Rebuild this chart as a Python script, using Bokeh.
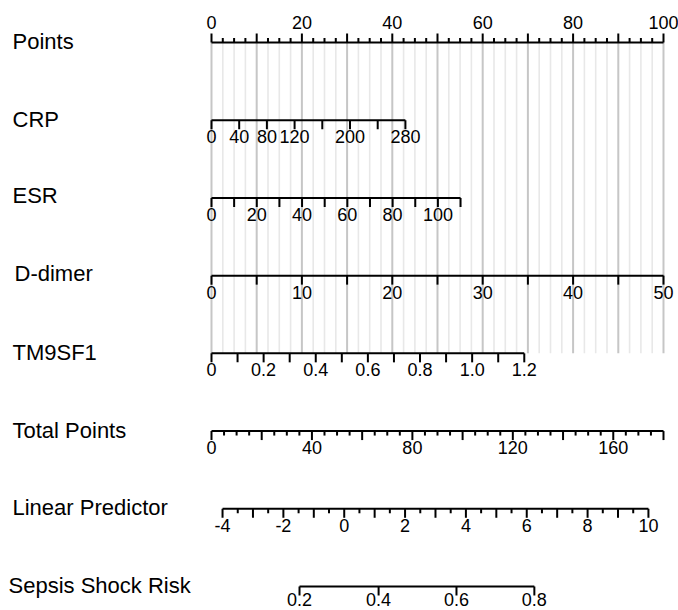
from bokeh.plotting import figure
from bokeh.models import Range1d
from bokeh.embed import file_html
from bokeh.resources import INLINE
from bokeh.core.properties import value
import numpy as np

# ---------------- data ----------------
row_names = ["Points", "CRP", "ESR", "D-dimer", "TM9SF1",
             "Total Points", "Linear Predictor", "Sepsis Shock Risk"]

points_labels = [0, 20, 40, 60, 80, 100]
points_major = [0, 10, 20, 30, 40, 50, 60, 70, 80, 90, 100]

crp_ticks = [0, 40, 80, 120, 160, 200, 240, 280]
crp_labels = ["0", "40", "80", "120", "", "200", "", "280"]
crp_max, crp_max_points = 280, 42.9

esr_ticks = [0, 10, 20, 30, 40, 50, 60, 70, 80, 90, 100, 110]
esr_labels = ["0", "", "20", "", "40", "", "60", "", "80", "", "100", ""]
esr_max, esr_max_points = 110, 55.1

dd_ticks = [0, 5, 10, 15, 20, 25, 30, 35, 40, 45, 50]
dd_labels = ["0", "", "10", "", "20", "", "30", "", "40", "", "50"]
dd_max, dd_max_points = 50, 100.0

tm_ticks = [0, 0.1, 0.2, 0.3, 0.4, 0.5, 0.6, 0.7, 0.8, 0.9, 1.0, 1.1, 1.2]
tm_labels = ["0", "", "0.2", "", "0.4", "", "0.6", "", "0.8", "", "1.0", "", "1.2"]
tm_max, tm_max_points = 1.2, 69.2

total_labels = [0, 40, 80, 120, 160]
total_max = 180

lp_labels = [-4, -2, 0, 2, 4, 6, 8, 10]
lp_at_total = {-4: 4.4, 10: 174.0}   # total points at the ends of the LP axis

risk_labels = ["0.2", "0.4", "0.6", "0.8"]
risk_lp = [-1.47, 1.13, 3.69, 6.25]  # linear predictor where each risk falls

# ---------------- layout helpers ----------------
PX = 1 / 77.71  # one pixel in row units
W, H = 678, 610
X0 = -46.68

p = figure(width=W, height=H, output_backend="svg", toolbar_location=None,
           x_range=Range1d(X0, 103.32), y_range=Range1d(7.309, -0.5405),
           x_axis_location=None, y_axis_location=None, min_border=0,
           outline_line_color=None, background_fill_color="white")
p.xgrid.visible = False
p.ygrid.visible = False

FONT = value("Liberation Sans")

def tp_to_points(tp):
    return np.asarray(tp, dtype=float) * 100.0 / total_max

def lp_to_points(lp):
    lp = np.asarray(lp, dtype=float)
    t0, t1 = lp_at_total[-4], lp_at_total[10]
    tp = t0 + (lp + 4) / 14.0 * (t1 - t0)
    return tp_to_points(tp)

# gray vertical reference lines from Points axis down to TM9SF1 axis
minor_grid = [v for v in np.arange(0, 100.01, 2.5) if abs(v % 10) > 1e-9]
p.segment(x0=minor_grid, x1=minor_grid, y0=0, y1=4, line_color="#e8e8e8", line_width=1.6)
p.segment(x0=points_major, x1=points_major, y0=0, y1=4, line_color="#c6c6c6", line_width=2)

seg_x, seg_y0, seg_y1 = [], [], []
lab_x, lab_y, lab_t = [], [], []

def add_axis(row, xs, labels, tick_len, minor_xs=(), minor_len=4.5, up=False, lab_off=16.5):
    xs = list(xs)
    sgn = -1 if up else 1
    allx = xs + list(minor_xs)
    seg_x.append((min(allx), max(allx)))
    seg_y0.append(row)
    seg_y1.append(row)
    for x in xs:
        seg_x.append((x, x)); seg_y0.append(row); seg_y1.append(row + sgn * tick_len * PX)
    for x in minor_xs:
        seg_x.append((x, x)); seg_y0.append(row); seg_y1.append(row + sgn * minor_len * PX)
    for x, t in zip(xs, labels):
        if t != "":
            lab_x.append(x)
            lab_y.append(row + (-20.5 if up else lab_off) * PX)
            lab_t.append(t)

# Points
pts_minor = [v for v in np.arange(0, 100.01, 2.5) if abs(v % 10) > 1e-9]
add_axis(0, points_major, [str(v) if v in points_labels else "" for v in points_major],
         9, pts_minor, 4.5, up=True)
# CRP
add_axis(1, [v / crp_max * crp_max_points for v in crp_ticks], crp_labels, 9)
# ESR
add_axis(2, [v / esr_max * esr_max_points for v in esr_ticks], esr_labels, 9)
# D-dimer
add_axis(3, [v / dd_max * dd_max_points for v in dd_ticks], dd_labels, 9)
# TM9SF1
add_axis(4, [v / tm_max * tm_max_points for v in tm_ticks], tm_labels, 9)
# Total points
tot_major = list(range(0, 181, 20))
tot_minor = [v for v in range(0, 181, 5) if v % 20 != 0]
add_axis(5, tp_to_points(tot_major),
         [str(v) if v in total_labels else "" for v in tot_major],
         9, tp_to_points(tot_minor), 4.5)
# Linear predictor
lp_major = list(range(-4, 11))
lp_minor = [v + 0.5 for v in range(-4, 10)]
add_axis(6, lp_to_points(lp_major),
         [str(v) if v in lp_labels else "" for v in lp_major],
         9, lp_to_points(lp_minor), 4.5)
# Risk
add_axis(7, lp_to_points(risk_lp), risk_labels, 9, lab_off=13.5)

p.segment(x0=[s[0] for s in seg_x], x1=[s[1] for s in seg_x], y0=seg_y0, y1=seg_y1,
          line_color="black", line_width=2)

p.text(x=lab_x, y=lab_y, text=lab_t, text_font=FONT, text_font_size="18px",
       text_align="center", text_baseline="middle", text_color="black")

# row names
name_x_px = [12, 12, 12, 14, 12, 12, 12, 8]
name_y_px = [-1, -1, -2, -2, -1, -1, -1, -1]
p.text(x=[X0] * len(row_names), y=[i + dy * PX for i, dy in zip(range(len(row_names)), name_y_px)],
       text=row_names, x_offset=name_x_px,
       text_font=FONT, text_font_size="22px", text_align="left",
       text_baseline="middle", text_color="black")

open("out.html", "w").write(file_html(p, INLINE))
